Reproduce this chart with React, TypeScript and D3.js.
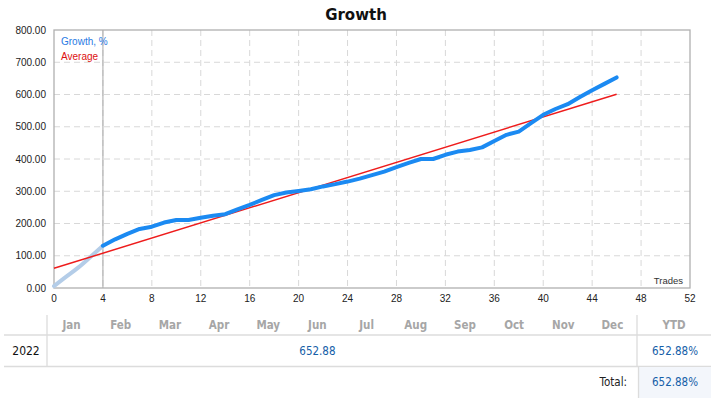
import React from "react";
import * as d3 from "d3";

const trades = [0,1,2,3,4,5,6,7,8,9,10,11,12,13,14,15,16,17,18,19,20,21,22,23,24,25,26,27,28,29,30,31,32,33,34,35,36,37,38,39,40,41,42,43,44,45,46];
const growth = [6,35,64,97,131,151,168,183,190,203,211,211,218,224,229,244,258,273,288,296,301,306,315,322,330,339,350,361,375,388,400,400,413,423,428,436,456,475,485,511,537,555,570,592,613,633,653];
const preStartIndex = 4; // light segment before the first deposit marker
const averageTrades = [0, 46];
const averageValues = [61, 601];
const yTicks = [0,100,200,300,400,500,600,700,800];
const xTicks = [0,4,8,12,16,20,24,28,32,36,40,44,48,52];
const months = ["Jan","Feb","Mar","Apr","May","Jun","Jul","Aug","Sep","Oct","Nov","Dec"];
const years = ["2022"];
const yearValue = ["652.88"];
const ytdValue = ["652.88%"];
const totalValue = "652.88%";

export default function App() {
  const W = 711, H = 398;
  const x = d3.scaleLinear().domain([0, 52]).range([54, 690]);
  const y = d3.scaleLinear().domain([0, 800]).range([288, 30]);
  const pts = trades.map((t, i) => [t, growth[i]] as [number, number]);
  const line = d3.line<[number, number]>().x(d => x(d[0])).y(d => y(d[1])).curve(d3.curveLinear);
  const smooth = d3.line<[number, number]>().x(d => x(d[0])).y(d => y(d[1])).curve(d3.curveMonotoneX);
  const pre = pts.slice(0, preStartIndex + 1);
  const main = pts.slice(preStartIndex);
  const avg = averageTrades.map((t, i) => [t, averageValues[i]] as [number, number]);
  const axisFont = "Liberation Sans, Arial, sans-serif";
  const tableFont = "DejaVu Sans Condensed, DejaVu Sans, sans-serif";
  const colW = (637 - 47) / 12;
  return (
    <svg width={W} height={H} style={{ position: "absolute", left: 0, top: 0 }}>
      <rect x={0} y={0} width={W} height={H} fill="#fff" />
      <text x={356} y={20} textAnchor="middle" fontFamily="DejaVu Sans, sans-serif" fontWeight="bold" fontSize={15} fill="#111">Growth</text>
      {yTicks.slice(1, -1).map(v => (
        <line key={"gy" + v} x1={x(0)} x2={x(52)} y1={y(v)} y2={y(v)} stroke="#d8d8d8" strokeDasharray="6,4" />
      ))}
      {xTicks.slice(1, -1).map(v => (
        <line key={"gx" + v} x1={x(v)} x2={x(v)} y1={y(800)} y2={y(0)} stroke="#d8d8d8" strokeDasharray="6,4" />
      ))}
      <line x1={x(4)} x2={x(4)} y1={y(800)} y2={y(0)} stroke="#a8a8a8" strokeWidth={1} />
      <rect x={x(0)} y={y(800)} width={x(52) - x(0)} height={y(0) - y(800)} fill="none" stroke="#b0b0b0" strokeWidth={1.3} />
      {yTicks.map(v => (
        <text key={"ty" + v} x={46} y={y(v) + 3.5} textAnchor="end" fontFamily={axisFont} fontSize={10} fill="#222">{v.toFixed(2)}</text>
      ))}
      {xTicks.map(v => (
        <text key={"tx" + v} x={x(v)} y={302} textAnchor="middle" fontFamily={axisFont} fontSize={10} fill="#222">{v}</text>
      ))}
      <path d={smooth(pre) || ""} fill="none" stroke="#b4cde8" strokeWidth={4} strokeLinejoin="round" strokeLinecap="round" />
      <path d={line(avg) || ""} fill="none" stroke="#ee1c1c" strokeWidth={1.5} />
      <path d={line(main) || ""} fill="none" stroke="#1b8af2" strokeWidth={4} strokeLinejoin="round" strokeLinecap="round" />
      <text x={61} y={45} fontFamily={axisFont} fontSize={10} fill="#2a7be4">Growth, %</text>
      <text x={61} y={60} fontFamily={axisFont} fontSize={10} fill="#dd1111">Average</text>
      <text x={683} y={284} textAnchor="end" fontFamily={axisFont} fontSize={9.5} fill="#333">Trades</text>
      <line x1={47} x2={47} y1={315} y2={366} stroke="#dcdcdc" strokeWidth={1.3} />
      <line x1={637} x2={637} y1={315} y2={366} stroke="#dcdcdc" strokeWidth={1.3} />
      <line x1={4} x2={711} y1={335} y2={335} stroke="#dcdcdc" strokeWidth={1.3} />
      <line x1={4} x2={711} y1={366.5} y2={366.5} stroke="#dcdcdc" strokeWidth={1.3} />
      <rect x={638.5} y={367} width={72.5} height={31} fill="#f3f6fb" />
      <line x1={638.5} x2={638.5} y1={367} y2={398} stroke="#dcdcdc" strokeWidth={1.3} />
      {months.map((m, i) => (
        <text key={m} x={47 + colW * (i + 0.5)} y={329} textAnchor="middle" fontFamily={tableFont} fontWeight="bold" fontSize={11.5} fill="#a6a6a6">{m}</text>
      ))}
      <text x={674} y={329} textAnchor="middle" fontFamily={tableFont} fontWeight="bold" fontSize={11.5} fill="#a6a6a6">YTD</text>
      {years.map((yr, i) => (
        <g key={yr}>
          <text x={26} y={355} textAnchor="middle" fontFamily={tableFont} fontSize={12} fill="#111">{yr}</text>
          <text x={47 + colW * 5.5} y={355} textAnchor="middle" fontFamily={tableFont} fontSize={11.5} fill="#1560a8">{yearValue[i]}</text>
          <text x={698} y={355} textAnchor="end" fontFamily={tableFont} fontSize={11.5} fill="#1560a8">{ytdValue[i]}</text>
        </g>
      ))}
      <text x={627} y={386} textAnchor="end" fontFamily={tableFont} fontSize={11.5} fill="#222">Total:</text>
      <text x={698} y={386} textAnchor="end" fontFamily={tableFont} fontSize={11.5} fill="#1560a8">{totalValue}</text>
    </svg>
  );
}
